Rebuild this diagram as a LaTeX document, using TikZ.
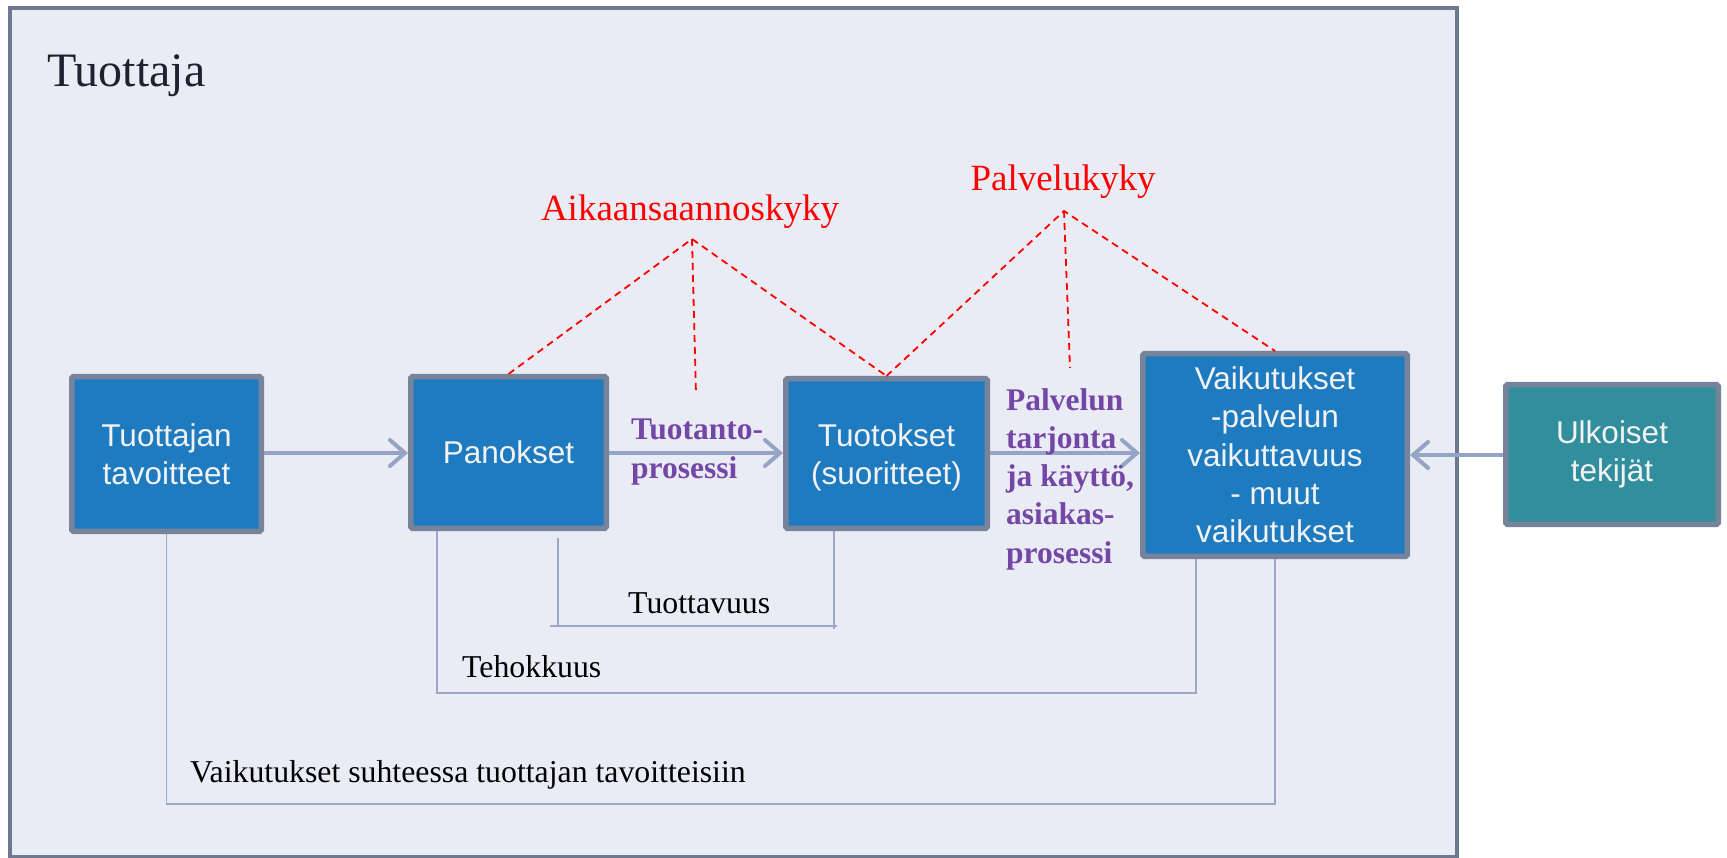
\documentclass[tikz,border=0pt]{standalone}
\usepackage{fontspec}
\setmainfont{Liberation Serif}
\setsansfont{Liberation Sans}
\usetikzlibrary{arrows.meta}
\definecolor{framefill}{HTML}{E9ECF4}
\definecolor{frameline}{HTML}{6E7890}
\definecolor{boxfill}{HTML}{1F7BC0}
\definecolor{boxline}{HTML}{77839A}
\definecolor{tealfill}{HTML}{318F9D}
\definecolor{arrowcol}{HTML}{95A4C4}
\definecolor{thincol}{HTML}{9AA8C8}
\definecolor{purpcol}{HTML}{7446A6}
\definecolor{darktext}{HTML}{1E2230}
\tikzset{
  boxnode/.style={draw=boxline, line width=5.5pt, fill=boxfill, rounded corners=1.5pt,
    text=white!95!black, align=center, inner sep=0pt,
    font=\sffamily\fontsize{31.5}{38.3}\selectfont},
  arr/.style={draw=arrowcol, line width=4pt, -{Straight Barb[length=15pt,width=26pt,line cap=round]}},
  thinline/.style={draw=thincol, line width=1.8pt},
  reddash/.style={draw=red, line width=1.8pt, dash pattern=on 7pt off 5pt},
  purplab/.style={text=purpcol, align=left, inner sep=0pt, anchor=north west,
    font=\bfseries\fontsize{31.5}{38.3}\selectfont},
  redlab/.style={text=red, inner sep=0pt, anchor=base, font=\fontsize{37}{40}\selectfont},
  blacklab/.style={text=black, inner sep=0pt, anchor=base west, font=\fontsize{31.8}{36}\selectfont}
}
\begin{document}
\begin{tikzpicture}[x=1pt,y=-1pt]
\useasboundingbox[fill=white] (0,0) rectangle (1727,858);
% frame
\draw[draw=frameline, fill=framefill, line width=4.5pt] (10,8) rectangle (1457,857);
\node[text=darktext, inner sep=0pt, anchor=base west, font=\fontsize{48}{52}\selectfont] (title) at (47,87) {Tuottaja};

% boxes
\node[boxnode, minimum width=189.5pt, minimum height=154.5pt] (box1) at (166.5,454) {Tuottajan\\tavoitteet};
\node[boxnode, minimum width=195.5pt, minimum height=151.5pt] (box2) at (508.5,452.5) {Panokset};
\node[boxnode, minimum width=201.5pt, minimum height=149.5pt] (box3) at (886.5,453.5) {\rule{0pt}{31pt}Tuotokset\\(suoritteet)};
\node[boxnode, minimum width=264.5pt, minimum height=202.5pt] (box4) at (1275,455) {Vaikutukset\\-palvelun\\vaikuttavuus\\- muut\\vaikutukset};
\node[boxnode, fill=tealfill, minimum width=212.5pt, minimum height=139.5pt] (box5) at (1612,454.5) {Ulkoiset\\tekijät};

% arrows
\coordinate (ya) at (0,453);
\coordinate (yb) at (0,455);
\draw[arr] (box1.east |- ya) -- (box2.west |- ya);
\draw[arr] (box2.east |- ya) -- (box3.west |- ya);
\draw[arr] (box3.east |- ya) -- (box4.west |- ya);
\draw[arr] (box5.west |- yb) -- (box4.east |- yb);

% purple labels
\node[purplab] (tuotanto) at (631,419) {Tuotanto-\\prosessi};
\node[purplab] (palvelun) at (1006,388) {Palvelun\\tarjonta\\ja käyttö,\\asiakas-\\prosessi};

% red labels and dashed lines
\node[redlab] (aika) at (690,221) {Aikaansaannoskyky};
\node[redlab] (palv) at (1063,191) {Palvelukyky};
\coordinate (apexA) at (692,239);
\coordinate (apexP) at (1064,211);
\coordinate (endA) at (696,394);
\coordinate (endP) at (1070,368);
\draw[reddash] (box2.north) -- (apexA) -- (box3.north);
\draw[reddash] (apexA) -- (endA);
\draw[reddash] (box3.north) -- (apexP) -- (box4.north);
\draw[reddash] (apexP) -- (endP);

% bottom measure lines
\coordinate (yVai) at (0,804);
\coordinate (yTeh) at (0,693);
\coordinate (xTeh1) at (437,0);
\coordinate (xTeh2) at (1196,0);
\coordinate (xTuo2) at (834,0);
\draw[thinline] (box1.south) -- (box1.south |- yVai) -- (box4.south |- yVai) -- (box4.south);
\draw[thinline] (box2.south -| xTeh1) -- (xTeh1 |- yTeh) -- (xTeh2 |- yTeh) -- (box4.south -| xTeh2);
\coordinate (tuoA) at (558,538);
\coordinate (tuoB) at (558,626);
\coordinate (tuoL) at (550,626);
\coordinate (tuoR) at (837,626);
\coordinate (tuoE) at (834,629);
\draw[thinline] (tuoA) -- (tuoB);
\draw[thinline] (tuoL) -- (tuoR);
\draw[thinline] (box3.south -| xTuo2) -- (tuoE);

\node[blacklab] (tuottavuus) at (628,613) {Tuottavuus};
\node[blacklab] (tehokkuus) at (462,677) {Tehokkuus};
\node[blacklab] (vaisuht) at (190,782) {Vaikutukset suhteessa tuottajan tavoitteisiin};
\end{tikzpicture}
\end{document}
